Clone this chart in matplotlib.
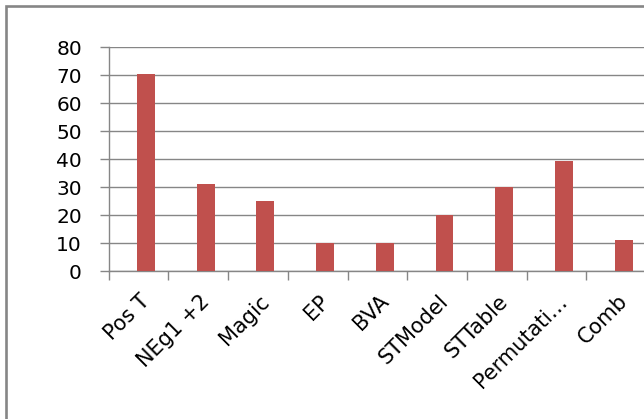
import matplotlib
matplotlib.use("Agg")
import matplotlib.pyplot as plt
import matplotlib.transforms as mtransforms
from matplotlib.patches import Rectangle
import numpy as np

categories = ["Pos T", "NEg1 +2", "Magic", "EP", "BVA", "STModel", "STTable",
              "Permutati\u2026", "Comb"]
values = [70.5, 31, 25, 10, 10, 20, 30, 39.5, 11]
y_ticks = [0, 10, 20, 30, 40, 50, 60, 70, 80]

BAR_RED = "#C0504D"
GRID_GRAY = "#868686"

plt.rcParams["font.family"] = ["DejaVu Sans"]

W, H, DPI = 644, 419, 100
fig = plt.figure(figsize=(W / DPI, H / DPI), dpi=DPI)

# chart frame (runs off the right and bottom edges)
fig.patches.append(Rectangle((5.8 / W, -0.2), 1.2, (H - 5.8) / H + 0.2,
                             transform=fig.transFigure, fill=False,
                             edgecolor=GRID_GRAY, linewidth=1.9, zorder=0))

left, right = 108.7, 108.7 + 9 * 59.7
top, bottom = 47.3, 271.3
ax = fig.add_axes([left / W, (H - bottom) / H, (right - left) / W, (bottom - top) / H])
ax.set_facecolor("none")

n = len(categories)
x = np.arange(n)
# clustered layout: second slot of a two-slot cluster
bar_w = 0.30
ax.bar(x + 0.5 + bar_w / 2 - 0.025, values, width=bar_w, color=BAR_RED, zorder=3)

ax.set_xlim(0, n)
ax.set_ylim(0, 80)
ax.set_yticks(y_ticks)
ax.set_yticklabels([str(v) for v in y_ticks])
ax.set_xticks(np.arange(n + 1))
ax.set_xticklabels([])

# rotated category labels, text end anchored just right of each category centre
label_tf = mtransforms.offset_copy(ax.get_xaxis_transform(), fig=fig,
                                   x=8, y=-27, units="dots")
for xi, name in zip(x + 0.5, categories):
    ax.text(xi, 0, name, transform=label_tf, rotation=45,
            rotation_mode="anchor", ha="right", va="center",
            fontsize=15, color="black")

ax.yaxis.grid(True, color=GRID_GRAY, linewidth=1.0, zorder=1)
for s in ["top", "right"]:
    ax.spines[s].set_visible(False)
for s in ["left", "bottom"]:
    ax.spines[s].set_color(GRID_GRAY)
    ax.spines[s].set_linewidth(1.0)

ax.tick_params(axis="y", length=6.8, width=1.0, color=GRID_GRAY, pad=12.5,
               labelsize=14.5, labelcolor="black")
ax.tick_params(axis="x", length=6.8, width=1.0, color=GRID_GRAY)

fig.savefig("out.png", dpi=DPI)
